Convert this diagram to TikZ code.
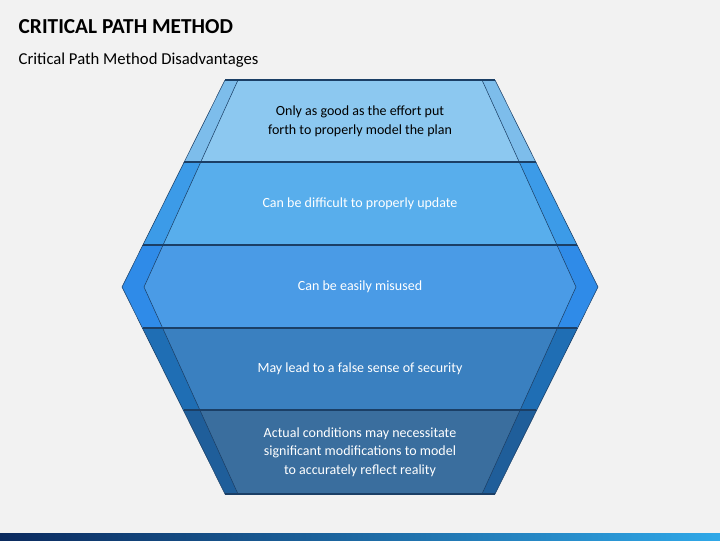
\documentclass[tikz,border=0pt]{standalone}
\usepackage{fontspec}
\setmainfont{Carlito}
\usepackage{tikz}

\definecolor{bgray}{HTML}{F2F2F2}
\definecolor{edge}{HTML}{1B3F66}
\definecolor{stripa}{HTML}{0B2A5E}
\definecolor{stripb}{HTML}{2FA8E8}

\begin{document}
\begin{tikzpicture} [x=0.75pt,y=-0.75pt]

\fill [bgray] (0,0) rectangle (720,540);
\useasboundingbox (0,0) rectangle (720,540);

\node [anchor=west, font=\bfseries\fontsize{16}{18}\selectfont] (title) at (14,27) {CRITICAL PATH METHOD};
\node [anchor=west, font=\fontsize{12.5}{15}\selectfont] (subtitle) at (14,60) {Critical Path Method Disadvantages};

\foreach \ya/\yb/\outc/\innc/\txtc/\txt [count=\i] in
  {80/162/7DBDEB/8CC8F0/black/{Only as good as the effort put\\forth to properly model the plan},
   162/245/3C9BE8/58AEEC/white/{Can be difficult to properly update},
   245/328/2F8BE8/4A9BE6/white/{Can be easily misused},
   328/410/1F6EB4/3A80C0/white/{May lead to a false sense of security},
   410/494/1F5E9A/3A6E9E/white/{Actual conditions may necessitate\\significant modifications to model\\to accurately reflect reality}}
{
  \definecolor{outc}{HTML}{\outc}
  \definecolor{innc}{HTML}{\innc}
  \begin{scope}
    \clip (0,\ya) rectangle (720,\yb);
    \filldraw [fill=outc, draw=edge, thin] (225,80) -- (495,80) -- (598,287) -- (495,494) -- (225,494) -- (122,287) -- cycle;
    \filldraw [fill=innc, draw=edge, thin] (238,80) -- (482,80) -- (576,287) -- (482,494) -- (238,494) -- (144,287) -- cycle;
  \end{scope}
  \node [align=center, text=\txtc, font=\fontsize{10.5}{14}\selectfont] (band\i) at (360,{(\ya+\yb)/2}) {\txt};
}
\foreach \yb/\xa/\xb in {162/184/536, 245/143/577, 328/143/577, 410/184/536}
  \draw [edge, thick] (\xa,\yb) -- (\xb,\yb);
\draw [edge, thick] (225,80) -- (495,80);
\draw [edge, thick] (225,494) -- (495,494);

% bottom strip
\shade [left color=stripa, right color=stripb] (0,533) rectangle (720,540);

\end{tikzpicture}
\end{document}
